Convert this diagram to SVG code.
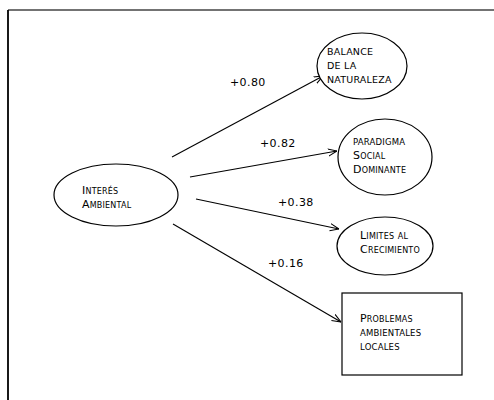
<svg xmlns="http://www.w3.org/2000/svg" width="494" height="400" viewBox="0 0 494 400">
<style>
.n{fill:#fff;stroke:#000;stroke-width:1.2}
.t{font-family:"DejaVu Sans","Liberation Sans",sans-serif;font-size:11px;fill:#000;letter-spacing:0.2px}
.s{font-size:9.5px}
.sc{font-variant:small-caps}
.c{stroke:#000;stroke-width:1.1;fill:none;marker-end:url(#arr)}
.l{font-family:"DejaVu Sans","Liberation Sans",sans-serif;font-size:11px;fill:#000;letter-spacing:0.4px}
</style>
<defs>
<marker id="arr" viewBox="0 0 10 10" refX="10" refY="5" markerWidth="9" markerHeight="9" markerUnits="userSpaceOnUse" orient="auto">
<path d="M0,1 L10,5 L0,9" fill="none" stroke="#000" stroke-width="1.2"/>
</marker>
</defs>
<rect width="494" height="400" fill="#fff"/>
<g id="frame" fill="none">
<line x1="8" y1="10" x2="494" y2="10" stroke="#444" stroke-width="1.3"/>
<line x1="8" y1="10" x2="8" y2="400" stroke="#000" stroke-width="1.8"/>
</g>
<g id="connectors">
<line class="c" x1="172" y1="157" x2="323" y2="76"/>
<line class="c" x1="190" y1="177" x2="337" y2="151"/>
<line class="c" x1="196" y1="199" x2="339" y2="229"/>
<line class="c" x1="173" y1="224" x2="341" y2="322"/>
<text class="l" x="230" y="86">+0.80</text>
<text class="l" x="260" y="147">+0.82</text>
<text class="l" x="278" y="206">+0.38</text>
<text class="l" x="268" y="267">+0.16</text>
</g>
<g id="interes">
<ellipse class="n" cx="116" cy="195" rx="62" ry="31"/>
<text class="t sc" x="82" y="194">Interés</text>
<text class="t sc" x="82" y="208">Ambiental</text>
</g>
<g id="balance">
<ellipse class="n" cx="362" cy="66" rx="45" ry="33"/>
<text class="t s" x="327" y="55">BALANCE</text>
<text class="t s" x="327" y="69">DE LA</text>
<text class="t s" x="327" y="83">NATURALEZA</text>
</g>
<g id="paradigma">
<ellipse class="n" cx="385" cy="157" rx="47" ry="38"/>
<text class="t s" x="353" y="145" style="font-size:8.5px">PARADIGMA</text>
<text class="t sc" x="353" y="159">Social</text>
<text class="t sc" x="353" y="173">Dominante</text>
</g>
<g id="limites">
<ellipse class="n" cx="385" cy="246" rx="48" ry="29"/>
<text class="t sc" x="360" y="239">Limites al</text>
<text class="t sc" x="360" y="253">Crecimiento</text>
</g>
<g id="problemas">
<rect class="n" x="342" y="293" width="120" height="82"/>
<text class="t sc" x="360" y="322">Problemas</text>
<text class="t" x="360" y="336" style="font-size:8.5px">AMBIENTALES</text>
<text class="t" x="360" y="350" style="font-size:8.5px">LOCALES</text>
</g>
</svg>
